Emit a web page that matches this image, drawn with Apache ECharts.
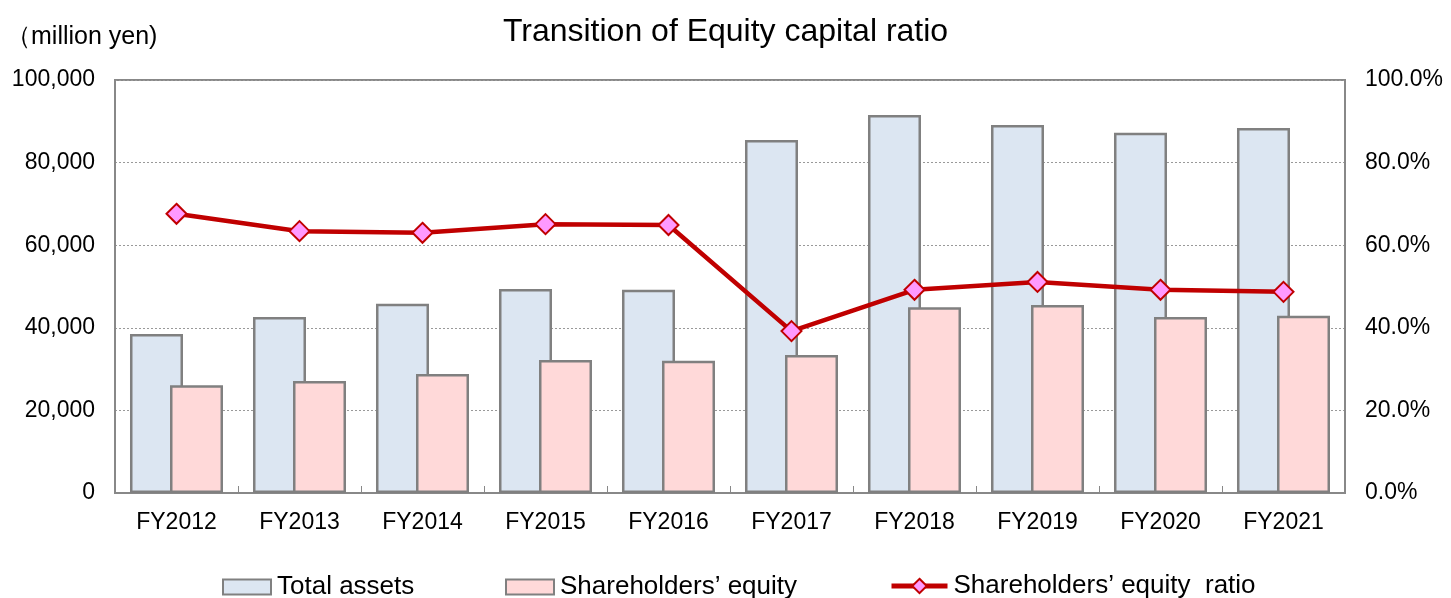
<!DOCTYPE html>
<html><head><meta charset="utf-8">
<script src="https://cdn.jsdelivr.net/npm/echarts@6/dist/echarts.min.js"></script>
<style>html,body{margin:0;padding:0;background:#fff}#c{width:1451px;height:598px}</style>
</head><body><div id="c"></div>
<script>
var categories = ['FY2012','FY2013','FY2014','FY2015','FY2016','FY2017','FY2018','FY2019','FY2020','FY2021'];
var totalAssets = [38500, 42600, 45800, 49400, 49200, 85500, 91500, 89100, 87200, 88400];
var equity = [26100, 27100, 28800, 32200, 32000, 33400, 45000, 45500, 42600, 42900];
var ratio = [67.6, 63.4, 63.0, 65.1, 64.9, 39.2, 49.2, 51.1, 49.2, 48.7];
var seriesNames = ['Total assets', 'Shareholders’ equity', 'Shareholders’ equity  ratio'];

var FONT = '"Liberation Sans", Arial, sans-serif';
var legendText = {fontFamily: FONT, fontSize: 26, color: '#000', padding: [0,0,0,1]};
var chart = echarts.init(document.getElementById('c'));
chart.setOption({
  animation: false,
  textStyle: {fontFamily: FONT, color: '#000'},
  title: {text: 'Transition of Equity capital ratio', left: 'center', top: 11,
    textStyle: {fontFamily: FONT, fontSize: 32, fontWeight: 'normal', color: '#000'}},
  graphic: [{type: 'text', left: 6, top: 25, style: {text: '（million yen)', font: '25px "Liberation Sans", Arial, sans-serif', fill: '#000'}}],
  legend: [
    {left: 217, top: 569, itemWidth: 48, itemHeight: 15, textStyle: legendText,
     data: [{name: seriesNames[0], icon: 'rect'}]},
    {left: 500, top: 569, itemWidth: 48, itemHeight: 15, textStyle: legendText,
     data: [{name: seriesNames[1], icon: 'rect'}]},
    {left: 884, top: 568, itemWidth: 56, itemHeight: 18, textStyle: legendText,
     data: [{name: seriesNames[2], lineStyle: {color: '#C00000', width: 5}, itemStyle: {color: '#FF99FF', borderColor: '#C00000', borderWidth: 2}}]}
  ],
  grid: {left: 115, right: 106, top: 80, bottom: 105, show: true, borderColor: '#888', borderWidth: 2},
  xAxis: {
    type: 'category', data: categories,
    axisLine: {lineStyle: {color: '#888', width: 2}},
    axisTick: {show: true, inside: true, length: 7, lineStyle: {color: '#888', width: 1}},
    axisLabel: {fontSize: 23, color: '#000', margin: 18, fontFamily: FONT}
  },
  yAxis: [{
    type: 'value', min: 0, max: 100000, interval: 20000,
    axisLine: {show: true, lineStyle: {color: '#888', width: 2}},
    axisTick: {show: false},
    axisLabel: {fontSize: 23, color: '#000', margin: 20, fontFamily: FONT,
      formatter: function(v){return v.toLocaleString('en-US');}},
    splitLine: {show: true, lineStyle: {color: '#999', width: 1, type: [2,2]}}
  }, {
    type: 'value', min: 0, max: 100, interval: 20, position: 'right',
    axisLine: {show: true, lineStyle: {color: '#888', width: 2}},
    axisTick: {show: false},
    axisLabel: {fontSize: 23, color: '#000', margin: 20, fontFamily: FONT,
      formatter: function(v){return v.toFixed(1) + '%';}},
    splitLine: {show: false}
  }],
  series: [{
    name: seriesNames[0], type: 'bar', data: totalAssets, barWidth: 53, barGap: '-24.5%',
    itemStyle: {color: '#DCE6F2', borderColor: '#808080', borderWidth: 2.5}
  }, {
    name: seriesNames[1], type: 'bar', data: equity, barWidth: 53,
    itemStyle: {color: '#FFD9D9', borderColor: '#808080', borderWidth: 2.5}
  }, {
    name: seriesNames[2], type: 'line', yAxisIndex: 1, data: ratio,
    symbol: 'diamond', symbolSize: 20,
    lineStyle: {color: '#C00000', width: 4.5},
    itemStyle: {color: '#FF99FF', borderColor: '#C00000', borderWidth: 2},
    z: 5
  }]
});
</script></body></html>
